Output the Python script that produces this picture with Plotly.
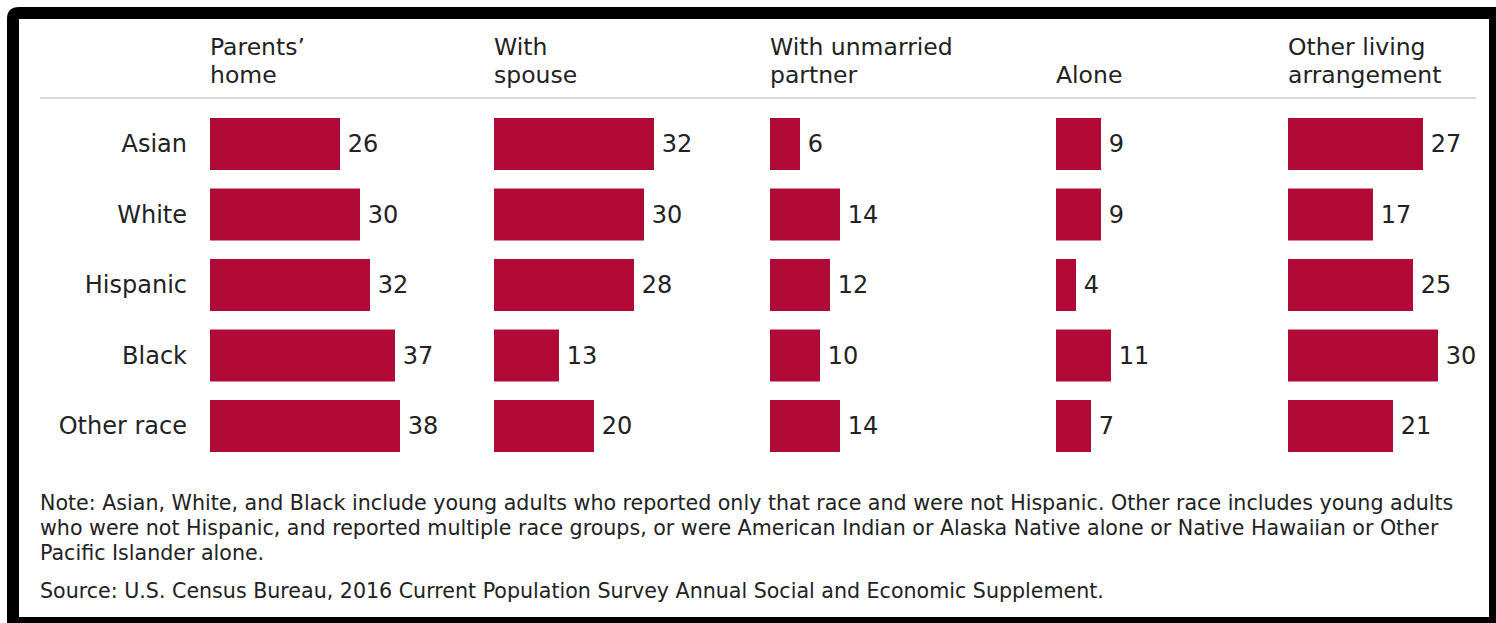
import plotly.graph_objects as go

W, H = 1496, 623

categories = ["Asian", "White", "Hispanic", "Black", "Other race"]
parents_home = [26, 30, 32, 37, 38]
with_spouse = [32, 30, 28, 13, 20]
with_partner = [6, 14, 12, 10, 14]
alone = [9, 9, 4, 11, 7]
other_arrangement = [27, 17, 25, 30, 21]

panel_titles = [["Parents’", "home"], ["With", "spouse"], ["With unmarried", "partner"],
                ["", "Alone"], ["Other living", "arrangement"]]
panel_values = [parents_home, with_spouse, with_partner, alone, other_arrangement]

note_lines = [
    "Note: Asian, White, and Black include young adults who reported only that race and were not Hispanic. Other race includes young adults",
    "who were not Hispanic, and reported multiple race groups, or were American Indian or Alaska Native alone or Native Hawaiian or Other",
    "Pacific Islander alone.",
]
source_text = "Source: U.S. Census Bureau, 2016 Current Population Survey Annual Social and Economic Supplement."

FONT = "DejaVu Sans"
TXT = "#222222"
BAR = "#b20a37"

def px(x):
    return x / W

def py(y):
    return 1 - y / H

col_left = [210, 494, 770, 1056, 1288]
col_width = 200  # 5 px per unit -> range 0..40

fig = go.Figure()
layout = dict(
    width=W, height=H,
    margin=dict(l=0, r=0, t=0, b=0),
    paper_bgcolor="white",
    plot_bgcolor="rgba(0,0,0,0)",
    showlegend=False,
    bargap=0.26,
    font=dict(family=FONT, color=TXT),
)

for i, vals in enumerate(panel_values):
    k = "" if i == 0 else str(i + 1)
    fig.add_trace(go.Bar(
        x=vals, y=categories, orientation="h",
        marker=dict(color=BAR, line=dict(width=0)),
        texttemplate="\u2009%{x}", textposition="outside",
        textfont=dict(family=FONT, size=24, color=TXT),
        cliponaxis=False,
        xaxis="x" + k, yaxis="y" + k,
        hoverinfo="skip",
    ))
    layout["xaxis" + k] = dict(
        domain=[px(col_left[i]), px(col_left[i] + col_width)],
        range=[0, col_width / 5], anchor="y" + k,
        visible=False, fixedrange=True,
    )
    layout["yaxis" + k] = dict(
        domain=[py(461.25), py(108.75)],
        anchor="x" + k, type="category",
        categoryorder="array", categoryarray=categories,
        range=[4.5, -0.5],
        showgrid=False, zeroline=False, showline=False,
        showticklabels=(i == 0), ticks="",
        ticklabelstandoff=22,
        tickfont=dict(family=FONT, size=24, color=TXT),
    )

fig.update_layout(**layout)

annotations = []
for i, lines in enumerate(panel_titles):
    for j, line in enumerate(lines):
        if not line:
            continue
        annotations.append(dict(
            text=line, x=px(col_left[i] - 2), y=py(47 + 28 * j), xref="paper", yref="paper",
            xanchor="left", yanchor="middle", align="left", showarrow=False,
            font=dict(family=FONT, size=23.5, color=TXT),
        ))
for j, line in enumerate(note_lines):
    annotations.append(dict(
        text=line, x=px(38), y=py(503 + 25 * j), xref="paper", yref="paper",
        xanchor="left", yanchor="middle", align="left", showarrow=False,
        font=dict(family=FONT, size=20.6, color=TXT),
    ))
annotations.append(dict(
    text=source_text, x=px(38), y=py(591), xref="paper", yref="paper",
    xanchor="left", yanchor="middle", align="left", showarrow=False,
    font=dict(family=FONT, size=20.6, color=TXT),
))
fig.update_layout(annotations=annotations)

# frame: black rounded border with white interior
r = 12
frame_path = (f"M {px(7)},{py(640)} L {px(7)},{py(7 + r)} "
              f"Q {px(7)},{py(7)} {px(7 + r)},{py(7)} "
              f"L {px(1510)},{py(7)} L {px(1510)},{py(640)} Z")
shapes = [
    dict(type="path", path=frame_path, xref="paper", yref="paper",
         fillcolor="black", line=dict(width=0), layer="below"),
    dict(type="rect", x0=px(19), x1=px(1489), y0=py(617), y1=py(19),
         xref="paper", yref="paper", fillcolor="white", line=dict(width=0), layer="below"),
    dict(type="line", x0=px(40), x1=px(1476), y0=py(98), y1=py(98),
         xref="paper", yref="paper", line=dict(color="#d9d9d9", width=2)),
]
fig.update_layout(shapes=shapes)

fig.write_html("out.html")
